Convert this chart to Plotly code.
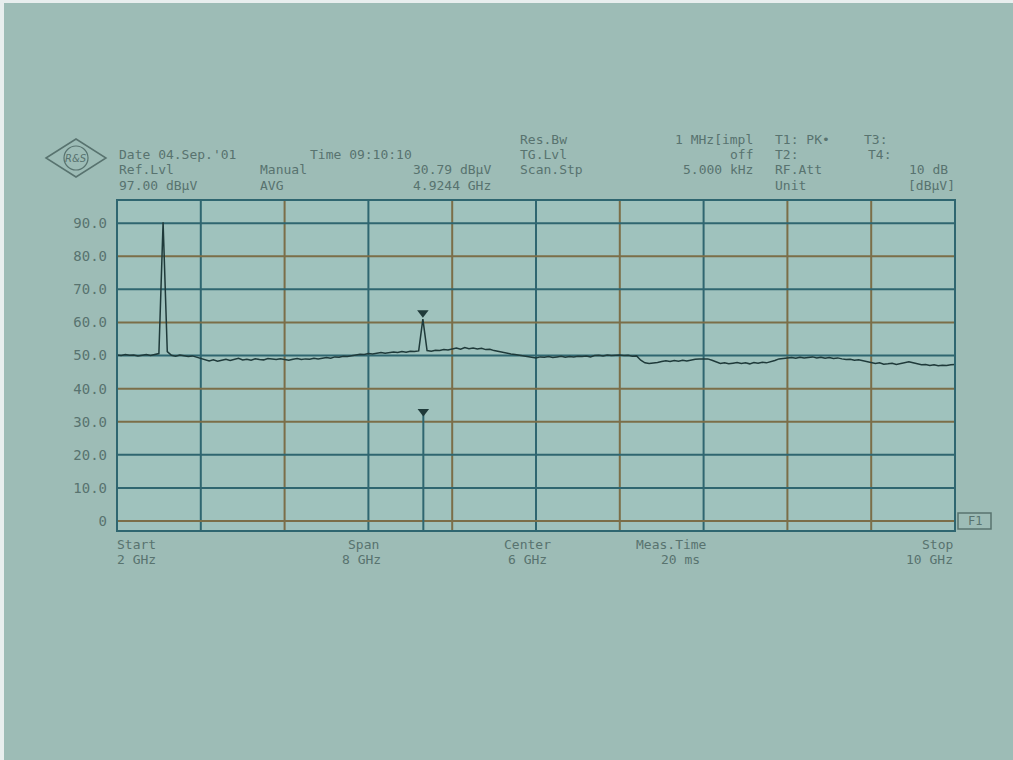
import plotly.graph_objects as go

# ---------------- data ----------------
start_ghz = 2.0
stop_ghz = 10.0
ref_level = 97.0
bottom_level = -3.0

# measured trace levels (dBuV), 201 sweep points, 2..10 GHz
level_db = [
    # 2.0 - 2.8 GHz
    50.2, 50.0, 50.3, 50.1, 50.2, 49.9, 50.1, 50.3, 50.0, 50.2, 50.6, 90.3, 51.2, 50.1, 49.8, 50.2, 50.0, 49.7, 49.9, 49.5,
    # 2.8 - 3.6
    49.0, 48.6, 48.4, 48.7, 48.3, 48.6, 48.9, 48.5, 48.8, 49.2, 48.7, 48.9, 48.6, 49.0, 48.8, 48.7, 49.1, 48.9, 48.8, 49.0,
    # 3.6 - 4.4
    48.8, 48.6, 48.9, 49.1, 48.8, 49.0, 48.9, 49.2, 49.0, 49.3, 49.4, 49.2, 49.6, 49.5, 49.8, 49.7, 50.0, 50.2, 50.4, 50.3,
    # 4.4 - 5.2
    50.6, 50.5, 50.8, 50.9, 50.7, 51.0, 51.1, 50.9, 51.2, 51.0, 51.3, 51.2, 51.4, 61.0, 51.5, 51.3, 51.6, 51.5, 51.8, 51.7,
    # 5.2 - 6.0
    52.0, 52.3, 51.9, 52.4, 52.1, 52.3, 52.0, 52.2, 51.8, 51.9, 51.5, 51.2, 51.0, 50.7, 50.5, 50.3, 50.1, 49.9, 49.6, 49.4,
    # 6.0 - 6.8
    49.3, 49.6, 49.5, 49.7, 49.4, 49.6, 49.8, 49.5, 49.7, 49.6, 49.8, 49.7, 49.9, 49.6, 50.0, 50.1, 49.9, 50.2, 50.0, 50.1,
    # 6.8 - 7.6
    50.2, 50.0, 50.1, 49.8, 49.9, 48.6, 47.8, 47.6, 47.7, 47.9, 48.2, 48.4, 48.2, 48.5, 48.3, 48.6, 48.4, 48.7, 48.9, 49.0,
    # 7.6 - 8.4
    48.9, 49.0, 48.6, 48.0, 47.6, 47.8, 47.5, 47.7, 47.9, 47.6, 47.8, 47.5, 47.9, 47.7, 48.0, 47.8, 48.1, 48.5, 49.0, 49.2,
    # 8.4 - 9.2
    49.3, 49.4, 49.2, 49.5, 49.3, 49.4, 49.6, 49.3, 49.5, 49.2, 49.4, 49.1, 49.3, 49.0, 48.8, 48.9, 48.6, 48.7, 48.4, 48.2,
    # 9.2 - 10.0
    47.9, 47.6, 47.8, 47.4, 47.5, 47.7, 47.3, 47.6, 47.9, 48.1, 47.8, 47.4, 47.2, 47.3, 47.0, 47.2, 46.9, 47.1, 47.0, 47.2, 47.3,
]

# markers
peak_marker_ghz = [4.92]
peak_marker_db = [62.9]
t1_marker_ghz = 4.9244
t1_marker_db = 30.79

# grid
y_ticks = [0, 10, 20, 30, 40, 50, 60, 70, 80, 90]
y_ticktext = ["0", "10.0", "20.0", "30.0", "40.0", "50.0", "60.0", "70.0", "80.0", "90.0"]
y_grid_blue = [90, 70, 50, 20, 10]
y_grid_brown = [80, 60, 40, 30, 0]
x_grid_blue = [2.8, 4.4, 6.0, 7.6]
x_grid_brown = [3.6, 5.2, 6.8, 8.4, 9.2]

# ---------------- figure ----------------
n = len(level_db)
step = (stop_ghz - start_ghz) / (n - 1)
freq_ghz = [start_ghz + i * step for i in range(n)]

W, H = 1013, 760
L, R, T, B = 117, 955, 200, 531


def px(x):
    return (x - L) / (R - L)


def py(y):
    return (B - y) / (B - T)


TXT = "#58736f"
BLUE = "#2f6670"
BROWN = "#7b6e48"
TRACE = "#1f3a3a"
FONT = "DejaVu Sans Mono"

fig = go.Figure()

fig.add_trace(go.Scatter(
    x=freq_ghz, y=level_db, mode="lines",
    line=dict(color=TRACE, width=1.5), showlegend=False, hoverinfo="skip"))

# T1 marker line (display line down to bottom)
fig.add_trace(go.Scatter(
    x=[t1_marker_ghz, t1_marker_ghz], y=[t1_marker_db + 1.5, bottom_level],
    mode="lines", line=dict(color=BLUE, width=2), showlegend=False, hoverinfo="skip"))
fig.add_trace(go.Scatter(
    x=[t1_marker_ghz], y=[t1_marker_db + 2.3], mode="markers",
    marker=dict(symbol="triangle-down", size=10, color=TRACE), showlegend=False, hoverinfo="skip"))
fig.add_trace(go.Scatter(
    x=peak_marker_ghz, y=peak_marker_db, mode="markers",
    marker=dict(symbol="triangle-down", size=10, color=TRACE), showlegend=False, hoverinfo="skip"))

shapes = []
for g in x_grid_blue:
    shapes.append(dict(type="line", xref="x", yref="paper", x0=g, x1=g, y0=0, y1=1,
                       line=dict(color=BLUE, width=2), layer="below"))
for g in x_grid_brown:
    shapes.append(dict(type="line", xref="x", yref="paper", x0=g, x1=g, y0=0, y1=1,
                       line=dict(color=BROWN, width=2), layer="below"))
for g in y_grid_blue:
    shapes.append(dict(type="line", xref="paper", yref="y", x0=0, x1=1, y0=g, y1=g,
                       line=dict(color=BLUE, width=2), layer="below"))
for g in y_grid_brown:
    shapes.append(dict(type="line", xref="paper", yref="y", x0=0, x1=1, y0=g, y1=g,
                       line=dict(color=BROWN, width=2), layer="below"))

# frame
shapes.append(dict(type="rect", xref="paper", yref="paper", x0=0, x1=1, y0=0, y1=1,
                   line=dict(color=BLUE, width=2)))
# F1 box
shapes.append(dict(type="rect", xref="paper", yref="paper", x0=px(958), x1=px(991),
                   y0=py(529), y1=py(513), line=dict(color=TXT, width=1.5)))
# R&S logo diamond
shapes.append(dict(type="path", xref="paper", yref="paper",
                   path="M {} {} L {} {} L {} {} L {} {} Z".format(
                       px(46), py(158), px(76), py(139), px(106), py(158), px(76), py(177)),
                   line=dict(color=TXT, width=1.5)))
shapes.append(dict(type="circle", xref="paper", yref="paper",
                   x0=px(64), x1=px(88), y0=py(170), y1=py(146),
                   line=dict(color=TXT, width=1.2)))
# photo border strips
shapes.append(dict(type="rect", xref="paper", yref="paper", x0=px(0), x1=px(4),
                   y0=py(760), y1=py(0), fillcolor="#e8eeee", line=dict(width=0)))
shapes.append(dict(type="rect", xref="paper", yref="paper", x0=px(0), x1=px(1013),
                   y0=py(3), y1=py(0), fillcolor="#e8eeee", line=dict(width=0)))

annotations = []


def txt(s, x, y, anchor="left", size=13):
    annotations.append(dict(text=s, x=px(x), y=py(y), xref="paper", yref="paper",
                            xanchor=anchor, yanchor="middle", showarrow=False,
                            font=dict(family=FONT, size=size, color=TXT)))


# header row A
txt("Res.Bw", 518, 139)
txt("1 MHz[impl", 755, 139, "right")
txt("T1: PK\u2022", 773, 139)
txt("T3:", 862, 139)
# row B
txt("Date 04.Sep.'01", 117, 154)
txt("Time 09:10:10", 308, 154)
txt("TG.Lvl", 518, 154)
txt("off", 755, 154, "right")
txt("T2:", 773, 154)
txt("T4:", 866, 154)
# row C
txt("Ref.Lvl", 117, 169)
txt("Manual", 258, 169)
txt("30.79 dB\u00b5V", 493, 169, "right")
txt("Scan.Stp", 518, 169)
txt("5.000 kHz", 755, 169, "right")
txt("RF.Att", 773, 169)
txt("10 dB", 950, 169, "right")
# row D
txt("97.00 dB\u00b5V", 117, 185)
txt("AVG", 258, 185)
txt("4.9244 GHz", 493, 185, "right")
txt("Unit", 773, 185)
txt("[dB\u00b5V]", 957, 185, "right")
# bottom labels
txt("Start", 115, 544)
txt("2 GHz", 115, 559)
txt("Span", 346, 544)
txt("8 GHz", 340, 559)
txt("Center", 502, 544)
txt("6 GHz", 506, 559)
txt("Meas.Time", 634, 544)
txt("20 ms", 659, 559)
txt("Stop", 955, 544, "right")
txt("10 GHz", 955, 559, "right")
txt("F1", 974.5, 521, "center", 12)
# logo text
annotations.append(dict(text="<i>R&amp;S</i>", x=px(76), y=py(158), xref="paper", yref="paper",
                        xanchor="center", yanchor="middle", showarrow=False,
                        font=dict(family="DejaVu Sans", size=10, color=TXT)))

fig.update_layout(
    width=W, height=H,
    margin=dict(l=L, r=W - R, t=T, b=H - B),
    paper_bgcolor="#9dbcb6",
    plot_bgcolor="#9fc2bd",
    shapes=shapes,
    annotations=annotations,
    showlegend=False,
    xaxis=dict(range=[start_ghz, stop_ghz], showgrid=False, zeroline=False,
               showticklabels=False, ticks="", showline=False, fixedrange=True),
    yaxis=dict(range=[bottom_level, ref_level], showgrid=False, zeroline=False,
               tickvals=y_ticks, ticktext=y_ticktext, ticks="",
               ticklabelstandoff=9, showline=False,
               tickfont=dict(family=FONT, size=14, color=TXT), fixedrange=True),
)

fig.write_html(
    "out.html",
    config={"displayModeBar": False},
    post_script="document.body.style.margin='0';document.body.style.overflow='hidden';",
)
